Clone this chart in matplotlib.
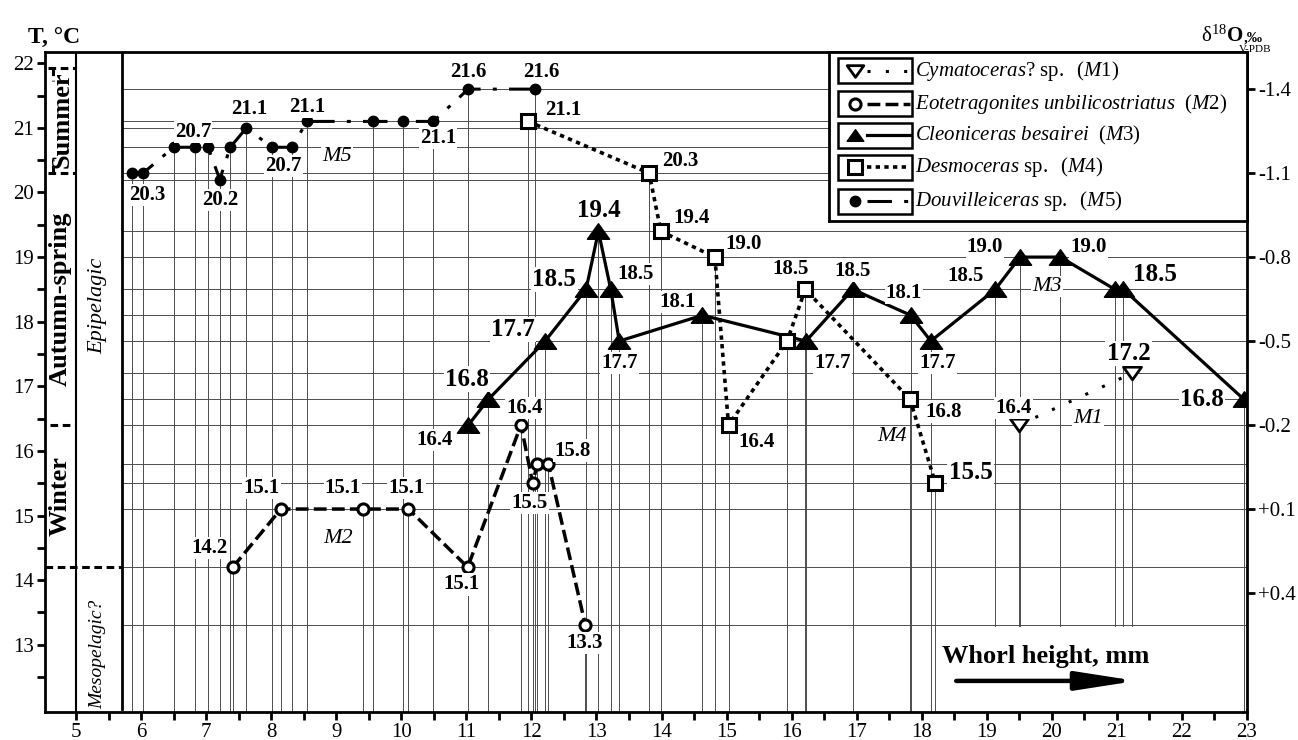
import numpy as np
import matplotlib
matplotlib.use("Agg")
import matplotlib.pyplot as plt
from matplotlib.patches import Rectangle
from matplotlib.path import Path

plt.rcParams['font.family'] = ['Liberation Serif', 'DejaVu Serif']
plt.rcParams['mathtext.fontset'] = 'custom'
plt.rcParams['mathtext.rm'] = 'Liberation Serif'
plt.rcParams['mathtext.it'] = 'Liberation Serif:italic'
plt.rcParams['mathtext.bf'] = 'Liberation Serif:bold'

# ---------------- data (whorl height, mm / temperature, degC) ----------------
m1_x = [19.49, 21.23]
m1_t = [16.4, 17.2]
m1_labels = ["16.4", "17.2"]

m2_x = [7.41, 8.15, 9.41, 10.11, 11.02, 11.84, 12.02, 12.09, 12.26, 12.83]
m2_t = [14.2, 15.1, 15.1, 15.1, 14.2, 16.4, 15.5, 15.8, 15.8, 13.3]
m2_labels = ["14.2", "15.1", "15.1", "15.1", "15.1", "16.4", "15.5", "", "15.8", "13.3"]

m3_x = [11.03, 11.34, 12.21, 12.84, 13.03, 13.22, 13.35, 14.63, 16.22, 16.94,
        17.83, 18.14, 19.13, 19.51, 20.13, 20.97, 21.10, 22.95]
m3_t = [16.4, 16.8, 17.7, 18.5, 19.4, 18.5, 17.7, 18.1, 17.7, 18.5,
        18.1, 17.7, 18.5, 19.0, 19.0, 18.5, 18.5, 16.8]
m3_labels = ["16.4", "16.8", "17.7", "18.5", "19.4", "18.5", "17.7", "18.1", "17.7", "18.5",
             "18.1", "17.7", "18.5", "19.0", "19.0", "", "18.5", "16.8"]

m4_x = [11.95, 13.81, 13.99, 14.82, 15.03, 15.93, 16.21, 17.82, 18.21]
m4_t = [21.1, 20.3, 19.4, 19.0, 16.4, 17.7, 18.5, 16.8, 15.5]
m4_labels = ["21.1", "20.3", "19.4", "19.0", "16.4", "", "18.5", "16.8", "15.5"]

m5_x = [5.86, 6.03, 6.5, 6.83, 7.03, 7.21, 7.37, 7.62, 8.01, 8.32,
        8.55, 9.56, 10.03, 10.49, 11.03, 12.05]
m5_t = [20.3, 20.3, 20.7, 20.7, 20.7, 20.2, 20.7, 21.0, 20.7, 20.7,
        21.1, 21.1, 21.1, 21.1, 21.6, 21.6]
m5_labels = ["20.3", "", "", "20.7", "", "20.2", "", "21.1", "20.7", "",
             "21.1", "", "", "21.1", "21.6", "21.6"]

x_ticks = list(range(5, 24))
t_ticks = list(range(13, 23))
delta_ticks = [-1.4, -1.1, -0.8, -0.5, -0.2, 0.1, 0.4]
delta_labels = ["-1.4", "-1.1", "-0.8", "-0.5", "-0.2", "+0.1", "+0.4"]

legend_names = [
    r"$\mathit{Cymatoceras?}\ \mathrm{sp.}\ \ (\mathit{M1})$",
    r"$\mathit{Eotetragonites\ unbilicostriatus}\ \ (\mathit{M2})$",
    r"$\mathit{Cleoniceras\ besairei}\ \ (\mathit{M3})$",
    r"$\mathit{Desmoceras}\ \mathrm{sp.}\ \ (\mathit{M4})$",
    r"$\mathit{Douvilleiceras}\ \mathrm{sp.}\ \ (\mathit{M5})$",
]


def delta_to_t(d):
    return 15.5333 - 4.3333 * d


# ---------------- label layout (pixel offsets: right, down) ----------------
m1_off = [(-5, -16.7), (-3.3, -20)]
m2_off = [(-23.5, -19.3), (-19.5, -20.7), (-20, -20.7), (-2, -20.7), (-5.7, 17.3),
          (3.3, -17.3), (-3.3, 20), None, (24.3, -13.3), (-1, 17.7)]
m3_off = [(-33.3, 15), (-21.7, -20), (-32.3, -11.7), (-31.7, -10), (0, -21), (25, -15),
          (0, 22), (-25, -13), (26.7, 21.7), (0, -18.3), (-6.7, -22.7), (6.7, 21.7),
          (-30, -13.3), (-35, -10), (28.3, -10), None, (31.7, -15), (-41.7, 0)]
m4_off = [(35, -11), (30.7, -11.7), (30.7, -13.3), (28.3, -13.3), (28.3, 16.7), None,
          (-15, -20), (33.3, 12.3), (35, -11)]
m5_off = [(15, 22), None, None, (-2, -15), None, (0, 20), None, (3, -19), (11.6, 18.3), None,
          (0, -14.4), None, None, (5, 17), (0, -16.7), (6.7, -16.7)]
m1_big = {1}
m2_big = set()
m3_big = {1, 2, 3, 4, 16, 17}
m4_big = {8}
m5_big = set()

# ---------------- styles ----------------
tri_up = Path([(-1, -0.7), (1, -0.7), (0, 0.7), (-1, -0.7)],
              [Path.MOVETO, Path.LINETO, Path.LINETO, Path.CLOSEPOLY])
tri_dn = Path([(-1, 0.7), (1, 0.7), (0, -0.7), (-1, 0.7)],
              [Path.MOVETO, Path.LINETO, Path.LINETO, Path.CLOSEPOLY])
st1 = dict(color='k', lw=2.2, ls=(0, (1, 5)), marker=tri_dn, ms=13, mfc='white', mec='k', mew=2)
st2 = dict(color='k', lw=2.5, ls=(0, (3.7, 1.5)), marker='o', ms=8, mfc='white', mec='k', mew=2.2)
st3 = dict(color='k', lw=2.3, ls='-', marker=tri_up, ms=16, mfc='k', mec='k')
st4 = dict(color='k', lw=2.6, ls=(0, (1.2, 1.2)), marker='s', ms=10, mfc='white', mec='k', mew=2.2)
st5 = dict(color='k', lw=2.2, ls=(0, (8, 4, 1.3, 4)), marker='o', ms=7.5, mfc='k', mec='k')

W, H = 1298, 740
fig = plt.figure(figsize=(W / 100, H / 100), dpi=100)
L, R, T, B = 45, 1247, 52.3, 712.3
ax = fig.add_axes([L / W, 1 - B / H, (R - L) / W, (B - T) / H])
x_lo, x_hi = 4.523, 23.0
t_lo, t_hi = 11.954, 22.17
ax.set_xlim(x_lo, x_hi)
ax.set_ylim(t_lo, t_hi)

series = [(m1_x, m1_t, m1_labels, m1_off, m1_big, st1),
          (m2_x, m2_t, m2_labels, m2_off, m2_big, st2),
          (m3_x, m3_t, m3_labels, m3_off, m3_big, st3),
          (m4_x, m4_t, m4_labels, m4_off, m4_big, st4),
          (m5_x, m5_t, m5_labels, m5_off, m5_big, st5)]

# grid: horizontal lines at measured levels, vertical drops from each point
all_x = [v for s in series for v in s[0]]
all_t = [v for s in series for v in s[1]]
grid_c = '0.3'
ax.hlines(sorted(set(all_t)), 5.7, x_hi, colors=grid_c, lw=0.7, zorder=1)
ax.vlines(all_x, t_lo, all_t, colors=grid_c, lw=0.7, zorder=1)
ax.add_patch(Rectangle((18.35, t_lo + 0.01), 4.25, 13.27 - t_lo, facecolor='white',
                       edgecolor='none', zorder=1.5))

for xs, ts, labs, offs, big, st in series:
    ax.plot(xs, ts, zorder=4, **st)
for xs, ts, labs, offs, big, st in series:
    for i, (xv, tv, lab, off) in enumerate(zip(xs, ts, labs, offs)):
        if not lab or off is None:
            continue
        ax.annotate(lab, (xv, tv), xytext=(off[0] * 0.72, -off[1] * 0.72),
                    textcoords='offset points', ha='center', va='center',
                    fontsize=18 if i in big else 15, fontweight='bold', zorder=6,
                    bbox=dict(boxstyle='square,pad=0.05', fc='white', ec='none'))

for name, xv, tv in [("M5", 9.01, 20.55), ("M2", 9.03, 14.65), ("M3", 19.92, 18.54),
                     ("M4", 17.54, 16.22), ("M1", 20.56, 16.5)]:
    ax.text(xv, tv, name, style='italic', fontsize=16, ha='center', va='center', zorder=6,
            bbox=dict(boxstyle='square,pad=0.05', fc='white', ec='none'))

# left columns
ax.axvline(5.0, color='k', lw=1.5, zorder=3)
ax.plot([5.7, 5.7], [t_lo + 0.05, t_hi], color='k', lw=2, zorder=3)
dash = (0, (2.5, 1.5))
for xa, xb, tv in [(4.57, 4.98, 21.92), (4.57, 4.98, 20.3), (4.6, 5.0, 16.4), (x_lo, 5.7, 14.2)]:
    ax.plot([xa, xb], [tv, tv], color='k', lw=2.2, ls=dash, zorder=3, solid_capstyle='butt')
ax.plot([4.64, 4.64], [21.92, 21.72], color='k', lw=2.2, ls=dash, zorder=3)
ax.plot([4.64, 4.64], [20.3, 20.5], color='k', lw=2.2, ls=dash, zorder=3)

ax.text(4.79, 21.12, 'Summer', rotation=90, fontsize=19, fontweight='bold', ha='center', va='center')
ax.text(4.76, 18.35, 'Autumn-spring', rotation=90, fontsize=19, fontweight='bold', ha='center', va='center')
ax.text(4.76, 15.3, 'Winter', rotation=90, fontsize=19, fontweight='bold', ha='center', va='center')
ax.text(5.33, 18.25, 'Epipelagic', rotation=90, style='italic', fontsize=16, ha='center', va='center')
ax.text(5.33, 12.85, 'Mesopelagic?', rotation=90, style='italic', fontsize=14, ha='center', va='center')

# whorl height label + arrow
ax.text(19.91, 12.81, 'Whorl height, mm', fontsize=19, fontweight='bold', ha='center', va='center', zorder=5)
ax.annotate('', xy=(21.3, 12.44), xytext=(18.53, 12.44), zorder=5,
            arrowprops=dict(arrowstyle='-|>,head_length=1.8,head_width=0.28', mutation_scale=20,
                            lw=3.2, color='k', shrinkA=0, shrinkB=0))

# ticks
ax.set_xticks(x_ticks)
ax.set_xticks(np.arange(5.5, 23, 1.0), minor=True)
ax.set_yticks(t_ticks)
ax.set_yticks(np.arange(12.5, 22, 1.0), minor=True)
ax.tick_params(which='both', direction='out', length=6, width=2, labelsize=15, pad=2,
               right=False, top=False)
for s in ax.spines.values():
    s.set_linewidth(2)

ax2 = ax.twinx()
ax2.set_ylim(t_lo, t_hi)
ax2.set_yticks([delta_to_t(d) for d in delta_ticks])
ax2.set_yticklabels(delta_labels)
ax2.tick_params(direction='out', length=6, width=2, labelsize=15, pad=2)
for s in ax2.spines.values():
    s.set_visible(False)

# titles
fig.text(54 / W, 1 - 38 / H, 'T, °C', fontsize=17, fontweight='bold', ha='center', va='center')
fig.text(1201 / W, 1 - 42 / H, r"$\mathrm{\delta}^{\mathrm{18}}\mathbf{O}$", fontsize=15,
         ha='left', va='baseline')
fig.text(1244 / W, 1 - 42 / H, ",‰", fontsize=11, fontweight='bold', ha='left', va='baseline')
fig.text(1255 / W, 1 - 45.5 / H, 'V-PDB', fontsize=8, ha='center', va='top')

# legend
lx0, lx1, ly0, ly1 = 829, 1247, 52.3, 221
lax = fig.add_axes([lx0 / W, 1 - ly1 / H, (lx1 - lx0) / W, (ly1 - ly0) / H])
lax.set_xlim(lx0, lx1)
lax.set_ylim(ly1, ly0)
lax.set_xticks([])
lax.set_yticks([])
for s in lax.spines.values():
    s.set_linewidth(2)
rows = [70.7, 104, 135.5, 167, 201]
marker_keys = ('marker', 'ms', 'mfc', 'mec', 'mew')
for yc, st, name in zip(rows, [st1, st2, st3, st4, st5], legend_names):
    lax.add_patch(Rectangle((838, yc - 12.5), 74, 25, fill=False, lw=1.8, ec='k'))
    line_st = {k: v for k, v in st.items() if k not in marker_keys}
    lax.plot([867, 910], [yc, yc], **line_st)
    mk = {k: v for k, v in st.items() if k in marker_keys}
    mk['ms'] = min(mk['ms'], 12)
    lax.plot([855], [yc], ls='none', color='k', **mk)
    lax.text(915, yc, name, fontsize=15, ha='left', va='center')

fig.savefig('out.png', dpi=100)
